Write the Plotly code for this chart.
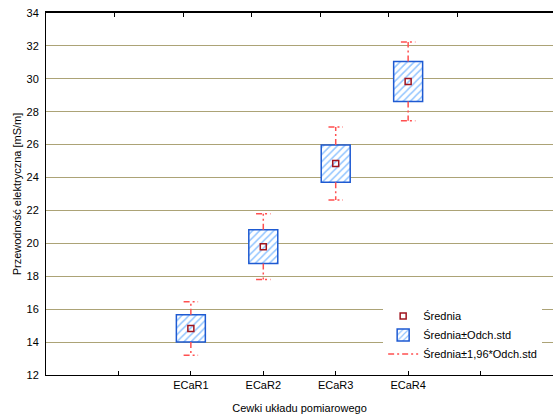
import plotly.graph_objects as go

# Coil measurement summary: mean and standard deviation per coil
coils = ["ECaR1", "ECaR2", "ECaR3", "ECaR4"]
coil_pos = [2, 3, 4, 5]
means = [14.83, 19.80, 24.85, 29.84]
stds = [0.83, 1.02, 1.13, 1.22]

y_ticks = [12, 14, 16, 18, 20, 22, 24, 26, 28, 30, 32, 34]
x_ticks = [1, 2, 3, 4, 5, 6]
x_ticklabels = ["", "ECaR1", "ECaR2", "ECaR3", "ECaR4", ""]

FONT = "Liberation Sans, Arial, sans-serif"
GRID = "rgb(172,163,118)"
BOX_W = 0.4
CAP_W = 0.2
K = 1.96

# whisker segments (outside the ±std box) and caps
wx, wy = [], []
for p, m, s in zip(coil_pos, means, stds):
    lo, hi = m - K * s, m + K * s
    wx += [p, p, None, p, p, None]
    wy += [m + s, hi, None, m - s, lo, None]
    wx += [p - CAP_W / 2, p + CAP_W / 2, None, p - CAP_W / 2, p + CAP_W / 2, None]
    wy += [hi, hi, None, lo, lo, None]

fig = go.Figure()

fig.add_trace(go.Bar(
    x=coil_pos,
    y=[2 * s for s in stds],
    base=[m - s for m, s in zip(means, stds)],
    width=BOX_W,
    name="Średnia±Odch.std",
    legendrank=2,
    marker=dict(
        color="white",
        line=dict(color="rgb(30,90,210)", width=1.5),
        pattern=dict(shape="/", fgcolor="rgb(40,140,255)", bgcolor="white",
                     size=5, solidity=0.3),
    ),
))

fig.add_trace(go.Scatter(
    x=wx, y=wy, mode="lines",
    name="Średnia±1,96*Odch.std",
    legendrank=3,
    line=dict(color="rgb(255,80,80)", width=1.5, dash="6px,3px,2px,3px"),
))

fig.add_trace(go.Scatter(
    x=coil_pos, y=means, mode="markers",
    name="Średnia",
    legendrank=1,
    marker=dict(symbol="square-open", size=6, color="rgb(160,20,30)",
                line=dict(width=1.5)),
))

# top axis carrying its own tick marks
fig.add_trace(go.Scatter(x=[0], y=[12], xaxis="x2", mode="markers",
                         marker=dict(opacity=0), showlegend=False, hoverinfo="skip"))

fig.update_layout(
    width=555, height=417,
    margin=dict(l=46, r=2, t=13, b=42),
    paper_bgcolor="white", plot_bgcolor="white",
    font=dict(family=FONT, size=11, color="black"),
    barmode="overlay",
    showlegend=True,
    legend=dict(
        x=0.665, y=0.018, xanchor="left", yanchor="bottom",
        bgcolor="white", borderwidth=0,
        font=dict(family=FONT, size=11),
        itemwidth=30, tracegroupgap=0,
    ),
    xaxis=dict(
        range=[0, 7], tickvals=x_ticks, ticktext=x_ticklabels,
        showgrid=False, zeroline=False,
        showline=True, linecolor="black", linewidth=1,
        ticks="inside", ticklen=4, tickcolor="black",
        title=dict(text="Cewki układu pomiarowego", standoff=14,
                   font=dict(size=11)),
    ),
    xaxis2=dict(
        range=[0, 7.4], overlaying="x", side="top",
        tickvals=x_ticks, showticklabels=False,
        showgrid=False, zeroline=False,
        showline=True, linecolor="black", linewidth=1.5,
        ticks="inside", ticklen=4, tickcolor="black",
    ),
    yaxis=dict(
        range=[12, 34], tickvals=y_ticks,
        showgrid=True, gridcolor=GRID, gridwidth=1.2,
        zeroline=False,
        showline=True, linecolor="black", linewidth=1,
        ticks="", ticklabelstandoff=4,
        title=dict(text="Przewodność elektryczna [mS/m]", standoff=2,
                   font=dict(size=11)),
    ),
)

fig.write_html("out.html")
